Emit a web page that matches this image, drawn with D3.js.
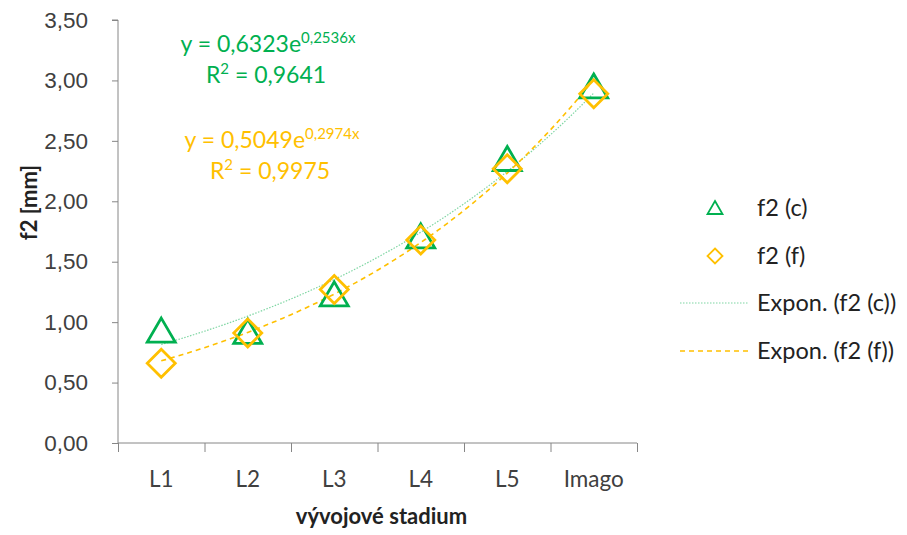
<!DOCTYPE html>
<html>
<head>
<meta charset="utf-8">
<script src="https://cdn.jsdelivr.net/npm/d3@7"></script>
<style>
  body { margin: 0; background: #fff; }
  svg { font-family: Lato, "Open Sans", sans-serif; }
  .axis path, .axis line { stroke: #868686; }
  .axis text { fill: #404040; font-size: 22.5px; }
</style>
</head>
<body>
<svg id="chart"></svg>
<script>
const stages = ['L1', 'L2', 'L3', 'L4', 'L5', 'Imago'];
const f2c = [0.93, 0.92, 1.23, 1.71, 2.35, 2.95];
const f2f = [0.66, 0.91, 1.27, 1.68, 2.27, 2.89];
// exponential trend y = a * e^(b x), as printed on the chart
const trendC = [0.6323, 0.2536];
const trendF = [0.5049, 0.2974];
const yTicks = [0, 0.5, 1, 1.5, 2, 2.5, 3, 3.5];

const WIDTH = 907;
const HEIGHT = 535;
const margin = {top: 20, right: 270, bottom: 92, left: 118};

const green = '#00B050';
const gold = '#FFC000';

const svg = d3.select('#chart').attr('width', WIDTH).attr('height', HEIGHT);

const x = d3.scaleLinear()
    .domain([0.5, stages.length + 0.5])
    .range([margin.left, WIDTH - margin.right]);
const y = d3.scaleLinear()
    .domain([0, 3.5])
    .range([HEIGHT - margin.bottom, margin.top]);

const fmt = v => d3.format('.2f')(v).replace('.', ',');
const fmt4 = v => d3.format('.4f')(v).replace('.', ',');

// y axis
const yAxis = d3.axisLeft(y).tickValues(yTicks).tickFormat(fmt).tickSize(6).tickPadding(24);
svg.append('g').attr('class', 'axis')
    .attr('transform', `translate(${margin.left},0)`)
    .call(yAxis)
    .call(g => g.select('.domain').attr('d', `M-6,${y(3.5)}H0V${y(0)}`));

// x axis, ticks between categories
const xAxis = d3.axisBottom(x)
    .tickValues(d3.range(0.5, stages.length + 1, 1))
    .tickFormat('').tickSize(9);
svg.append('g').attr('class', 'axis')
    .attr('transform', `translate(0,${y(0)})`)
    .call(xAxis)
    .call(g => g.select('.domain').attr('d', `M${x(0.5)},0H${x(stages.length + 0.5)}`));

svg.append('g').attr('class', 'axis')
    .selectAll('text').data(stages).join('text')
    .attr('x', (d, i) => x(i + 1))
    .attr('y', y(0) + 44)
    .attr('text-anchor', 'middle')
    .text(d => d);

// axis titles
svg.append('text')
    .attr('x', (x(0.5) + x(stages.length + 0.5)) / 2 + 4)
    .attr('y', HEIGHT - 11)
    .attr('text-anchor', 'middle')
    .style('font-weight', 'bold').style('font-size', '22px').attr('fill', '#222')
    .text('vývojové stadium');

svg.append('text')
    .attr('transform', `translate(37,${y(1.99)}) rotate(-90)`)
    .attr('text-anchor', 'middle')
    .style('font-weight', 'bold').style('font-size', '22px').attr('fill', '#222')
    .text('f2 [mm]');

// trendlines
const trendPts = ab => d3.range(1, stages.length + 0.001, 0.05).map(t => [t, ab[0] * Math.exp(ab[1] * t)]);
const line = d3.line().x(d => x(d[0])).y(d => y(d[1]));

svg.append('path')
    .attr('d', line(trendPts(trendC)))
    .attr('fill', 'none').attr('stroke', '#7fd6a3').attr('stroke-width', 1.2)
    .attr('stroke-dasharray', '1.5,1.5');
svg.append('path')
    .attr('d', line(trendPts(trendF)))
    .attr('fill', 'none').attr('stroke', gold).attr('stroke-width', 1.6)
    .attr('stroke-dasharray', '5,4');

// markers
const diamond = s => `M0,${-s}L${s},0L0,${s}L${-s},0Z`;

svg.append('g').selectAll('path').data(f2c).join('path')
    .attr('transform', (d, i) => `translate(${x(i + 1)},${y(d)})`)
    .attr('d', 'M0,-12.5L14,11.5L-14,11.5Z')
    .attr('fill', 'none').attr('stroke', green).attr('stroke-width', 2.8);

svg.append('g').selectAll('path').data(f2f).join('path')
    .attr('transform', (d, i) => `translate(${x(i + 1)},${y(d)})`)
    .attr('d', diamond(14))
    .attr('fill', 'none').attr('stroke', gold).attr('stroke-width', 2.8);

// equations
function equation(cx, yb, ab, r2, color) {
  const t = svg.append('text').attr('x', cx).attr('y', yb)
      .attr('text-anchor', 'middle').attr('fill', color).style('font-size', '23px');
  t.append('tspan').text(`y = ${fmt4(ab[0])}e`);
  t.append('tspan').attr('dy', -9).style('font-size', '15px').text(`${fmt4(ab[1])}x`);
  const r = svg.append('text').attr('x', cx - 2).attr('y', yb + 31)
      .attr('text-anchor', 'middle').attr('fill', color).style('font-size', '23px');
  r.append('tspan').text('R');
  r.append('tspan').attr('dy', -9).style('font-size', '15px').text('2');
  r.append('tspan').attr('dy', 9).text(` = ${fmt4(r2)}`);
}
equation(268, 52, trendC, 0.9641, green);
equation(272, 148, trendF, 0.9975, gold);

// legend
const lg = svg.append('g').attr('transform', 'translate(680,0)');
const legendItems = [
  {label: 'f2 (c)', y: 208, kind: 'tri'},
  {label: 'f2 (f)', y: 256, kind: 'dia'},
  {label: 'Expon. (f2 (c))', y: 303, kind: 'lineC'},
  {label: 'Expon. (f2 (f))', y: 351, kind: 'lineF'}
];
legendItems.forEach(it => {
  if (it.kind === 'tri') {
    lg.append('path').attr('transform', `translate(35,${it.y})`).attr('d', 'M0,-7L7.5,6L-7.5,6Z')
      .attr('fill', 'none').attr('stroke', green).attr('stroke-width', 1.8);
  } else if (it.kind === 'dia') {
    lg.append('path').attr('transform', `translate(35,${it.y})`).attr('d', diamond(7.5))
      .attr('fill', 'none').attr('stroke', gold).attr('stroke-width', 1.8);
  } else {
    lg.append('line').attr('x1', 0).attr('x2', 68).attr('y1', it.y).attr('y2', it.y)
      .attr('stroke', it.kind === 'lineC' ? '#7fd6a3' : gold)
      .attr('stroke-width', it.kind === 'lineC' ? 1.2 : 1.6)
      .attr('stroke-dasharray', it.kind === 'lineC' ? '1.5,1.5' : '5,4');
  }
  lg.append('text').attr('x', 77).attr('y', it.y + 8)
    .attr('fill', '#222').style('font-size', '23.5px').text(it.label);
});
</script>
</body>
</html>
